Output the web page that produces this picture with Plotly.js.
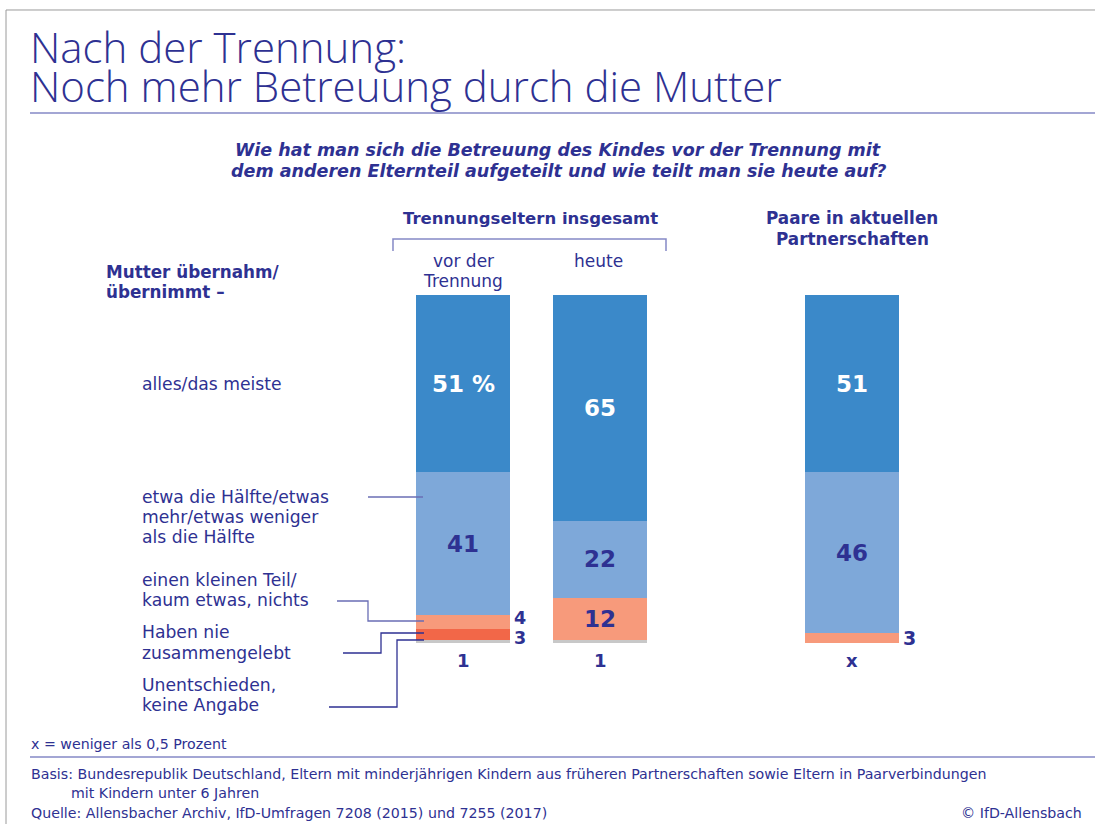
<!DOCTYPE html>
<html>
<head>
<meta charset="utf-8">
<script src="https://cdn.plot.ly/plotly-3.0.1.min.js"></script>
<style>html,body{margin:0;padding:0;background:#fff;}#chart{width:1095px;height:824px;}</style>
</head>
<body>
<div id="chart"></div>
<script>
// ---------- data ----------
const groupA = ["vor der Trennung", "heute"];
const groupB = ["Paare in aktuellen Partnerschaften"];
const seriesNames = ["Unentschieden, keine Angabe", "Haben nie zusammengelebt", "einen kleinen Teil/kaum etwas, nichts", "etwa die Hälfte/etwas mehr/etwas weniger als die Hälfte", "alles/das meiste"];
const unentschieden = [1, 1, 0];   // third value: x = weniger als 0,5 Prozent
const nieZusammen   = [3, 0, 0];
const kleinerTeil   = [4, 12, 3];
const haelfte       = [41, 22, 46];
const alles         = [51, 65, 51];
const unentschiedenLabels = ["1", "1", "x"];

// ---------- style ----------
const W = 1095, H = 824, T = 295, B = 643;
const NAVY = "#2e3192";
const RULE = "#8589c6";
const FONT = "'DejaVu Sans', 'Liberation Sans', Arial, sans-serif";
const TFONT = "'Open Sans', 'Liberation Sans', Arial, sans-serif";
const colors = ["#c8c8c8", "#f26748", "#f79a7b", "#7ea8d9", "#3b89c9"];
const seriesData = [unentschieden, nieZusammen, kleinerTeil, haelfte, alles];

const px = x => x / W;
const py = y => (B - y) / (B - T);

const traces = [];
seriesData.forEach((vals, s) => {
  traces.push({type: "bar", x: groupA, y: vals.slice(0, 2), xaxis: "x", yaxis: "y",
    name: seriesNames[s], marker: {color: colors[s], line: {width: 0}}, hoverinfo: "skip", showlegend: false});
  traces.push({type: "bar", x: groupB, y: vals.slice(2), xaxis: "x2", yaxis: "y",
    name: seriesNames[s], marker: {color: colors[s], line: {width: 0}}, hoverinfo: "skip", showlegend: false});
});

const annotations = [];
function txt(text, x, y, size, opts) {
  opts = opts || {};
  annotations.push({
    text: text, x: px(x), y: py(y), xref: "paper", yref: "paper",
    xanchor: opts.xanchor || "left", yanchor: "middle", showarrow: false,
    font: {family: opts.family || FONT, size: size, color: NAVY, weight: opts.weight || 400, style: opts.style || "normal"}
  });
}

// value labels computed from the data
const allCats = groupA.concat(groupB);
allCats.forEach((cat, i) => {
  const xr = i < 2 ? "x" : "x2";
  const vals = seriesData.map(a => a[i]);
  let base = 0;
  const bottoms = vals.map(v => { const b = base; base += v; return b; });
  // alles
  annotations.push({x: cat, xref: xr, yref: "y", y: bottoms[4] + vals[4] / 2,
    text: vals[4] + (i === 0 ? " %" : ""), showarrow: false,
    font: {family: FONT, size: 23, color: "#ffffff", weight: 700}});
  // haelfte
  annotations.push({x: cat, xref: xr, yref: "y", y: bottoms[3] + vals[3] / 2,
    text: String(vals[3]), showarrow: false,
    font: {family: FONT, size: 23, color: NAVY, weight: 700}});
  // kleiner Teil
  if (vals[2] >= 8) {
    annotations.push({x: cat, xref: xr, yref: "y", y: bottoms[2] + vals[2] / 2,
      text: String(vals[2]), showarrow: false,
      font: {family: FONT, size: 23, color: NAVY, weight: 700}});
  } else if (vals[2] > 0) {
    annotations.push({x: cat, xref: xr, yref: "y", y: bottoms[2] + vals[2] / 2,
      text: String(vals[2]), showarrow: false, xanchor: "left", xshift: 49, yshift: vals[1] > 0 ? 4 : 0,
      font: {family: FONT, size: vals[1] > 0 ? 17.5 : 19, color: NAVY, weight: 700}});
  }
  // nie zusammengelebt
  if (vals[1] > 0) {
    annotations.push({x: cat, xref: xr, yref: "y", y: bottoms[1] + vals[1] / 2,
      text: String(vals[1]), showarrow: false, xanchor: "left", xshift: 49, yshift: -4,
      font: {family: FONT, size: 17.5, color: NAVY, weight: 700}});
  }
  // unentschieden below the bar
  annotations.push({x: cat, xref: xr, yref: "y", y: 0, yanchor: "top", yshift: -5,
    text: unentschiedenLabels[i], showarrow: false,
    font: {family: FONT, size: 18, color: NAVY, weight: 700}});
});

// titles and texts
txt("Nach der Trennung:", 28, 46, 42, {weight: 300, family: TFONT});
txt("Noch mehr Betreuung durch die Mutter", 28, 85, 42, {weight: 300, family: TFONT});
txt("Wie hat man sich die Betreuung des Kindes vor der Trennung mit", 558, 150, 17.5, {xanchor: "center", weight: 700, style: "italic"});
txt("dem anderen Elternteil aufgeteilt und wie teilt man sie heute auf?", 558, 171, 17.5, {xanchor: "center", weight: 700, style: "italic"});
txt("Trennungseltern insgesamt", 530, 218, 16.5, {xanchor: "center", weight: 700});
txt("Paare in aktuellen", 852, 218, 16.8, {xanchor: "center", weight: 700});
txt("Partnerschaften", 852, 239, 16.8, {xanchor: "center", weight: 700});
txt("vor der", 463, 261, 17, {xanchor: "center"});
txt("Trennung", 463, 281, 17, {xanchor: "center"});
txt("heute", 598, 261, 17, {xanchor: "center"});
txt("Mutter übernahm/", 104, 272, 16.8, {weight: 700});
txt("übernimmt –", 104, 292, 16.8, {weight: 700});
txt("alles/das meiste", 140, 384, 17.2);
txt("etwa die Hälfte/etwas", 140, 497, 17.2);
txt("mehr/etwas weniger", 140, 517, 17.2);
txt("als die Hälfte", 140, 537, 17.2);
txt("einen kleinen Teil/", 140, 580, 17.2);
txt("kaum etwas, nichts", 140, 600, 17.2);
txt("Haben nie", 140, 632, 17.2);
txt("zusammengelebt", 140, 653, 17.2);
txt("Unentschieden,", 140, 685, 17.2);
txt("keine Angabe", 140, 705, 17.2);
txt("x = weniger als 0,5 Prozent", 29, 744, 14.2);
txt("Basis: Bundesrepublik Deutschland, Eltern mit minderjährigen Kindern aus früheren Partnerschaften sowie Eltern in Paarverbindungen", 29, 774, 14.2);
txt("mit Kindern unter 6 Jahren", 69, 793, 14.2);
txt("Quelle: Allensbacher Archiv, IfD-Umfragen 7208 (2015) und 7255 (2017)", 29, 813, 14.2);
txt("© IfD-Allensbach", 1084, 813, 14.2, {xanchor: "right"});

function path(pts) {
  return pts.map((p, k) => (k ? "L" : "M") + px(p[0]).toFixed(5) + "," + py(p[1]).toFixed(5)).join(" ");
}
function pshape(pts, color, width) {
  return {type: "path", xref: "paper", yref: "paper", path: path(pts), line: {color: color, width: width}, layer: "above"};
}
const shapes = [
  pshape([[6, 824], [6, 10], [1095, 10]], "#9a9a9a", 1),
  pshape([[30, 113], [1095, 113]], RULE, 1.5),
  pshape([[30, 757], [1095, 757]], RULE, 1.5),
  pshape([[393, 251], [393, 239], [666, 239], [666, 251]], RULE, 1.5),
  pshape([[368, 497], [423, 497]], "#6a6eb5", 1.3),
  pshape([[337, 601], [368, 601], [368, 621], [424, 621]], "#6a6eb5", 1.3),
  pshape([[343, 653], [381, 653], [381, 633], [424, 633]], NAVY, 1.3),
  pshape([[329, 707], [397, 707], [397, 640], [424, 640]], NAVY, 1.3)
];

const layout = {
  width: W, height: H,
  margin: {l: 0, r: 0, t: T, b: H - B, pad: 0},
  paper_bgcolor: "#ffffff", plot_bgcolor: "#ffffff",
  barmode: "stack", bargap: 0.314,
  showlegend: false,
  xaxis: {domain: [px(394.5), px(668.5)], type: "category", categoryarray: groupA, range: [-0.5, 1.5],
          showticklabels: false, showgrid: false, zeroline: false, showline: false, fixedrange: true},
  xaxis2: {domain: [px(783.5), px(920.5)], type: "category", range: [-0.5, 0.5],
           showticklabels: false, showgrid: false, zeroline: false, showline: false, fixedrange: true},
  yaxis: {range: [0, 100], showticklabels: false, showgrid: false, zeroline: false, showline: false, fixedrange: true},
  annotations: annotations,
  shapes: shapes
};

Plotly.newPlot("chart", traces, layout, {displayModeBar: false, staticPlot: true});
</script>
</body>
</html>
